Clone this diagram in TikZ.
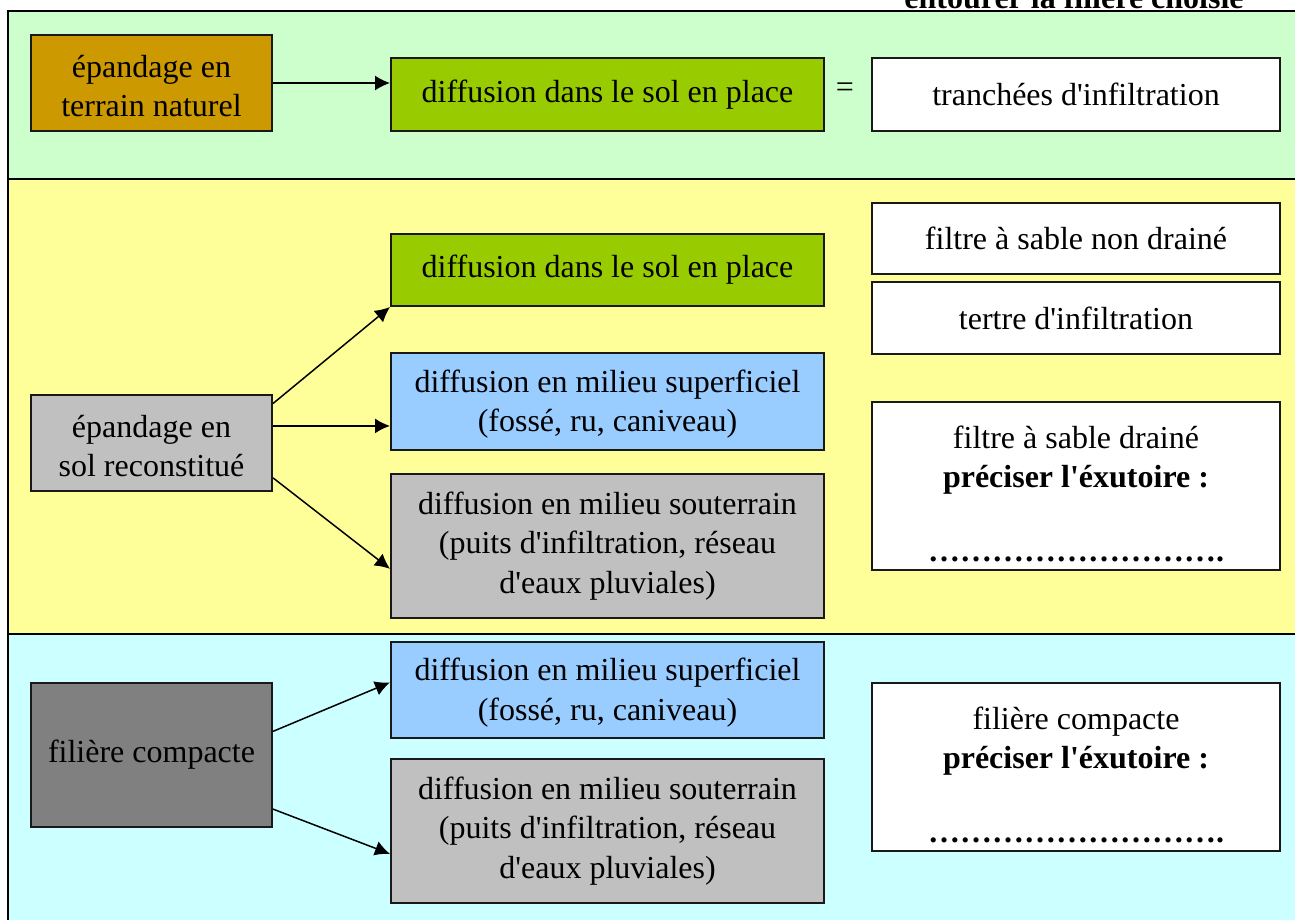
\documentclass[tikz,border=0pt]{standalone}
\usepackage{fontspec}
\setmainfont{Liberation Serif}
\usetikzlibrary{arrows.meta}
\usetikzlibrary{calc}
\definecolor{bandGreen}{HTML}{CCFFCC}
\definecolor{bandYellow}{HTML}{FFFF99}
\definecolor{bandCyan}{HTML}{CCFFFF}
\definecolor{ochre}{HTML}{CC9900}
\definecolor{leafGreen}{HTML}{99CC00}
\definecolor{skyBlue}{HTML}{99CCFF}
\definecolor{lightGrey}{HTML}{C0C0C0}
\definecolor{darkGrey}{HTML}{808080}
\newcommand{\ap}{\textquotesingle}
\tikzset{geometry/.style={line width=1pt}}
\tikzset{boxNode/.style={draw=black!90, line width=1pt, inner sep=0pt, align=center, font=\fontsize{16}{19.75}\selectfont}}
\tikzset{sourceBox/.style={boxNode, minimum width=120.5pt, minimum height=48pt}}
\tikzset{outletBox/.style={boxNode, minimum width=216.5pt, minimum height=48pt}}
\tikzset{choiceBox/.style={boxNode, fill=white, minimum width=204pt, minimum height=36pt}}
\tikzset{flowArrow/.style={line width=0.75pt, -{Latex[length=7.5pt,width=7.5pt]}}}

\begin{document}
\begin{tikzpicture}[geometry, x=0.5pt, y=-0.5pt]
\useasboundingbox (0,0) rectangle (1295,920);
\clip (0,0) rectangle (1295,920);
% bands
\fill[bandGreen] (8,11) rectangle (1300,179);
\fill[bandYellow] (8,179) rectangle (1300,634);
\fill[bandCyan] (8,634) rectangle (1300,925);
\draw (1300,11) -- (8,11) -- (8,925);
\draw (8,179) -- (1300,179);
\draw (8,634) -- (1300,634);
\node[font=\bfseries\fontsize{16}{19.75}\selectfont, anchor=base] (choix) at (1074,9) {entourer la filière choisie};

% terrain naturel
\node[sourceBox, fill=ochre] (naturel) at (151.5,83) {\rule{0pt}{14pt}épandage en\\terrain naturel};
\node[outletBox, fill=leafGreen, minimum height=36.5pt] (solA) at (607.5,94.5) {diffusion dans le sol en place};
\node[font=\fontsize{16}{19.75}\selectfont] (egal) at (845,90) {=};
\node[choiceBox, minimum height=36.5pt] (tranchees) at (1076,94.5) {tranchées d\ap infiltration};
\draw[flowArrow] (naturel.east) -- (naturel.east -| solA.west);

% sol reconstitue
\node[sourceBox, fill=lightGrey] (reconstitue) at (151.5,443) {\rule{0pt}{14pt}épandage en\\sol reconstitué};
\node[outletBox, fill=leafGreen, minimum height=36pt] (solB) at (607.5,270) {diffusion dans le sol en place};
\node[outletBox, fill=skyBlue, minimum height=48.5pt] (superfB) at (607.5,401.5) {\rule{0pt}{14pt}diffusion en milieu superficiel\\(fossé, ru, caniveau)};
\node[outletBox, fill=lightGrey, minimum height=72pt] (souterB) at (607.5,546) {diffusion en milieu souterrain\\(puits d\ap infiltration, réseau\\d\ap eaux pluviales)};
\node[choiceBox, minimum height=35.5pt] (nonDraine) at (1076,238.5) {filtre à sable non drainé};
\node[choiceBox] (tertre) at (1076,318) {tertre d\ap infiltration};
\node[choiceBox, minimum height=84pt] (draine) at (1076,486) {\rule{0pt}{19pt}filtre à sable drainé\\\textbf{préciser l\ap éxutoire :}\\[17pt]\textbf{……………………….}};
\draw[flowArrow] (reconstitue.18) -- (solB.south west);
\draw[flowArrow] (reconstitue.8) -- (reconstitue.8 -| superfB.west);
\draw[flowArrow] (reconstitue.-16) -- (souterB.186);

% filiere compacte
\node[sourceBox, fill=darkGrey, minimum height=72pt] (compacte) at (151.5,755) {filière compacte};
\node[outletBox, fill=skyBlue] (superfC) at (607.5,690) {\rule{0pt}{14pt}diffusion en milieu superficiel\\(fossé, ru, caniveau)};
\node[outletBox, fill=lightGrey, minimum height=72pt] (souterC) at (607.5,831) {diffusion en milieu souterrain\\(puits d\ap infiltration, réseau\\d\ap eaux pluviales)};
\node[choiceBox, minimum height=84pt] (compacteChoix) at (1076,767) {\rule{0pt}{19pt}filière compacte\\\textbf{préciser l\ap éxutoire :}\\[17pt]\textbf{……………………….}};
\draw[flowArrow] (compacte.11) -- (superfC.178);
\draw[flowArrow] (compacte.-24) -- (souterC.186);
\end{tikzpicture}
\end{document}
